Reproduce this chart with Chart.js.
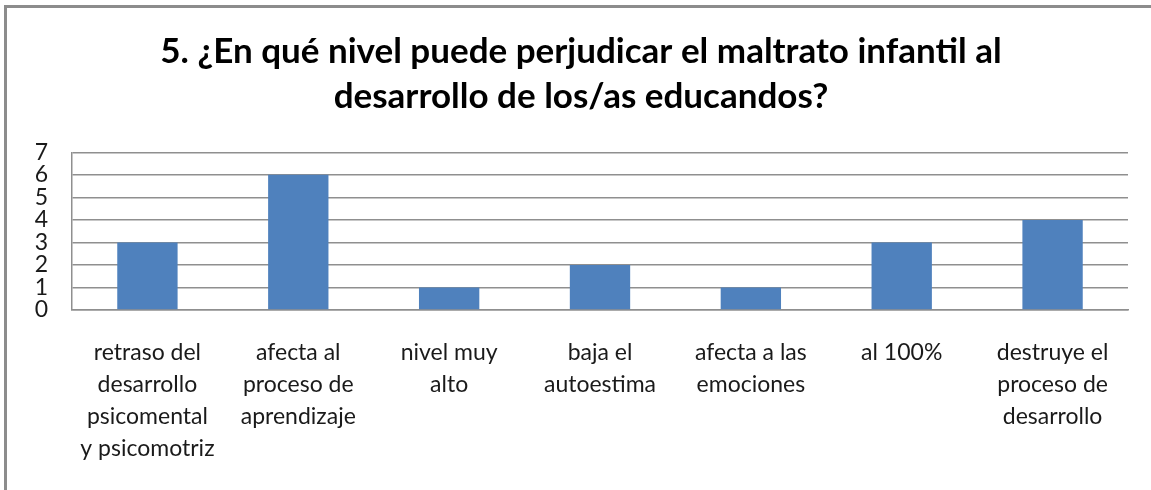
<!DOCTYPE html>
<html>
<head>
<meta charset="utf-8">
<script src="https://cdn.jsdelivr.net/npm/chart.js@4/dist/chart.umd.min.js"></script>
<style>
  html, body { margin: 0; padding: 0; background: #fff; overflow: hidden; }
  #frame {
    position: absolute; left: 4px; top: 5px; width: 1200px; height: 600px;
    border-left: 3px solid #8c8c8c; border-top: 3px solid #8c8c8c;
  }
  #wrap { position: absolute; left: 0; top: 0; width: 1151px; height: 490px; }
</style>
</head>
<body>
<div id="frame"></div>
<div id="wrap"><canvas id="bar-chart" width="1151" height="490"></canvas></div>
<script>
const titleLines = ["5. ¿En qué nivel puede perjudicar el maltrato infantil al", "desarrollo de los/as educandos?"];
const categories = [
  ["retraso del", "desarrollo", "psicomental", "y psicomotriz"],
  ["afecta al", "proceso de", "aprendizaje"],
  ["nivel muy", "alto"],
  ["baja el", "autoestima"],
  ["afecta a las", "emociones"],
  ["al 100%"],
  ["destruye el", "proceso de", "desarrollo"]
];
const counts = [3, 6, 1, 2, 1, 3, 4];
const yMin = 0;
const yMax = 7;

// chart area runs from x=72 to x=1128, as in the picture
new Chart("bar-chart", {
  type: "bar",
  data: {
    labels: categories,
    datasets: [{
      label: "Serie 1",
      data: counts,
      backgroundColor: "#4f81bd",
      borderWidth: 0,
      barPercentage: 0.4,
      categoryPercentage: 1
    }]
  },
  options: {
    responsive: false,
    animation: false,
    devicePixelRatio: 1,
    layout: {
      padding: { left: 34, right: 23, top: 0, bottom: 0 }
    },
    plugins: {
      legend: { display: false },
      tooltip: { enabled: false },
      title: {
        display: true,
        text: titleLines,
        color: "#000",
        font: { family: "Lato", size: 35, weight: "bold", lineHeight: 1.29 },
        padding: { top: 29, bottom: 33 }
      }
    },
    scales: {
      x: {
        grid: { display: false, drawTicks: false },
        border: { display: true, color: "#8f8f8f", width: 1.5 },
        ticks: {
          color: "#1a1a1a",
          font: { family: "Lato", size: 23, lineHeight: 1.38 },
          padding: 27,
          autoSkip: false,
          maxRotation: 0,
          minRotation: 0
        },
        afterFit: (scale) => { scale.height = 180; }
      },
      y: {
        min: yMin,
        max: yMax,
        grid: { color: "#8f8f8f", lineWidth: 1.5, drawTicks: false },
        border: { display: true, color: "#8f8f8f", width: 1.5 },
        ticks: {
          stepSize: 1,
          autoSkip: false,
          color: "#1a1a1a",
          font: { family: "Lato", size: 23 },
          padding: 24
        },
        afterFit: (scale) => { scale.width = 38; }
      }
    }
  }
});
</script>
</body>
</html>
